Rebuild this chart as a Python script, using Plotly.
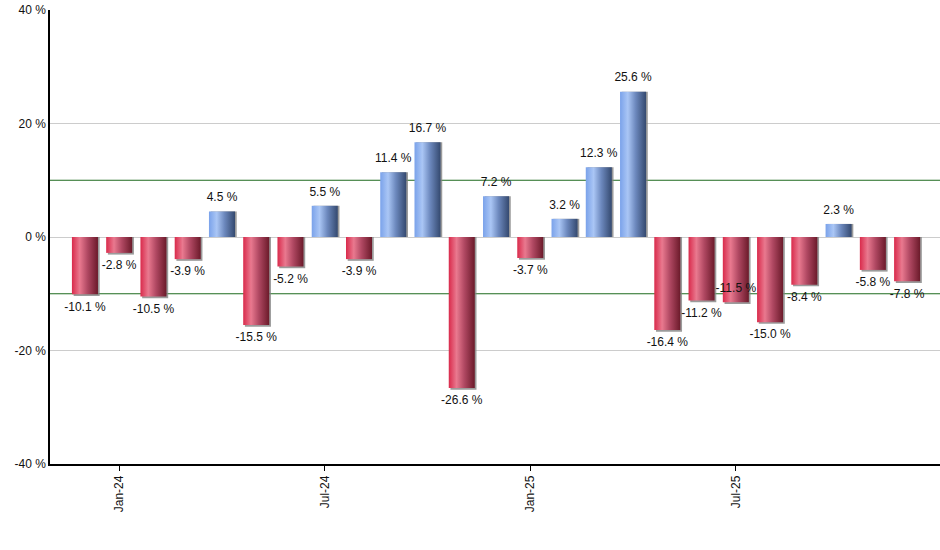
import plotly.graph_objects as go

# monthly returns, Dec-23 .. Dec-25
months = ["Dec-23", "Jan-24", "Feb-24", "Mar-24", "Apr-24", "May-24", "Jun-24",
          "Jul-24", "Aug-24", "Sep-24", "Oct-24", "Nov-24", "Dec-24",
          "Jan-25", "Feb-25", "Mar-25", "Apr-25", "May-25", "Jun-25",
          "Jul-25", "Aug-25", "Sep-25", "Oct-25", "Nov-25", "Dec-25"]
returns = [-10.1, -2.8, -10.5, -3.9, 4.5, -15.5, -5.2, 5.5, -3.9, 11.4, 16.7, -26.6,
           7.2, -3.7, 3.2, 12.3, 25.6, -16.4, -11.2, -11.5, -15.0, -8.4, 2.3, -5.8, -7.8]
tick_months = ["Jan-24", "Jul-24", "Jan-25", "Jul-25"]
y_ticks = [-40, -20, 0, 20, 40]
band_levels = [10, -10]

half_w = 0.38
red_scale = [[0, "#d92a4b"], [0.3, "#e9798f"], [0.6, "#b04862"], [1, "#6b1a2a"]]
blue_scale = [[0, "#7aa2ea"], [0.3, "#aac6f5"], [0.6, "#6c88bd"], [1, "#34496f"]]
font = "Liberation Sans, Arial"

fig = go.Figure()

for i, v in enumerate(returns):
    x0, x1 = i - half_w, i + half_w
    # drop shadow
    sx, sy = 0.05, -0.3 if v < 0 else 0
    fig.add_trace(go.Scatter(
        x=[x0 + sx, x1 + sx, x1 + sx, x0 + sx, x0 + sx],
        y=[0, 0, v + sy, v + sy, 0],
        mode="none", fill="toself", fillcolor="rgba(130,130,130,0.8)",
        hoverinfo="skip", showlegend=False,
    ))
    fig.add_trace(go.Scatter(
        x=[x0, x1, x1, x0, x0],
        y=[0, 0, v, v, 0],
        mode="none", fill="toself",
        fillgradient=dict(type="horizontal",
                          colorscale=red_scale if v < 0 else blue_scale,
                          start=x0, stop=x1),
        name=months[i], hoverinfo="name", showlegend=False,
    ))

# value labels: below negative bars, above positive ones;
# flip a negative label up when it would collide with its neighbour's
positions = []
for i, v in enumerate(returns):
    pos = "top center" if v >= 0 else "bottom center"
    if (v < 0 and i > 0 and positions[-1] == "bottom center"
            and abs(v - returns[i - 1]) < 1.5):
        pos = "top center"
    positions.append(pos)

# invisible markers push the labels a few px away from the bar ends
fig.add_trace(go.Scatter(
    x=list(range(len(returns))),
    y=returns,
    mode="markers+text",
    marker=dict(size=10, color="rgba(0,0,0,0)"),
    text=[f"{v:.1f} %" for v in returns],
    textposition=positions,
    textfont=dict(family=font, size=12, color="#111"),
    hoverinfo="skip", showlegend=False,
))

for lvl in band_levels:
    fig.add_shape(type="line", xref="paper", yref="y", x0=0, x1=1, y0=lvl, y1=lvl,
                  line=dict(color="#1f6b1f", width=1), layer="below")

fig.update_xaxes(
    range=[-1.02, 24.96],
    tickvals=[months.index(m) for m in tick_months],
    ticktext=tick_months,
    tickangle=-90,
    ticks="outside", ticklen=5, tickcolor="black",
    showline=True, linecolor="black", linewidth=1.5,
    showgrid=False, zeroline=False, automargin=False,
    tickfont=dict(family=font, size=12, color="#111"),
)
fig.update_yaxes(
    range=[-40, 40],
    tickvals=y_ticks,
    ticktext=[f"{t} %" for t in y_ticks],
    showline=True, linecolor="black", linewidth=1.5,
    showgrid=True, gridcolor="#cccccc", gridwidth=1,
    zeroline=True, zerolinecolor="#cccccc", zerolinewidth=1,
    ticks="", automargin=False,
    tickfont=dict(family=font, size=12, color="#111"),
)
fig.update_layout(
    width=940, height=550, autosize=False,
    plot_bgcolor="white", paper_bgcolor="white",
    margin=dict(l=50, r=0, t=10, b=86),
    showlegend=False,
)

# drop the browser's default body margin so the figure sits at the page corner
fig.write_html("out.html", config={"displayModeBar": False},
               post_script="document.body.style.margin = '0px';")
